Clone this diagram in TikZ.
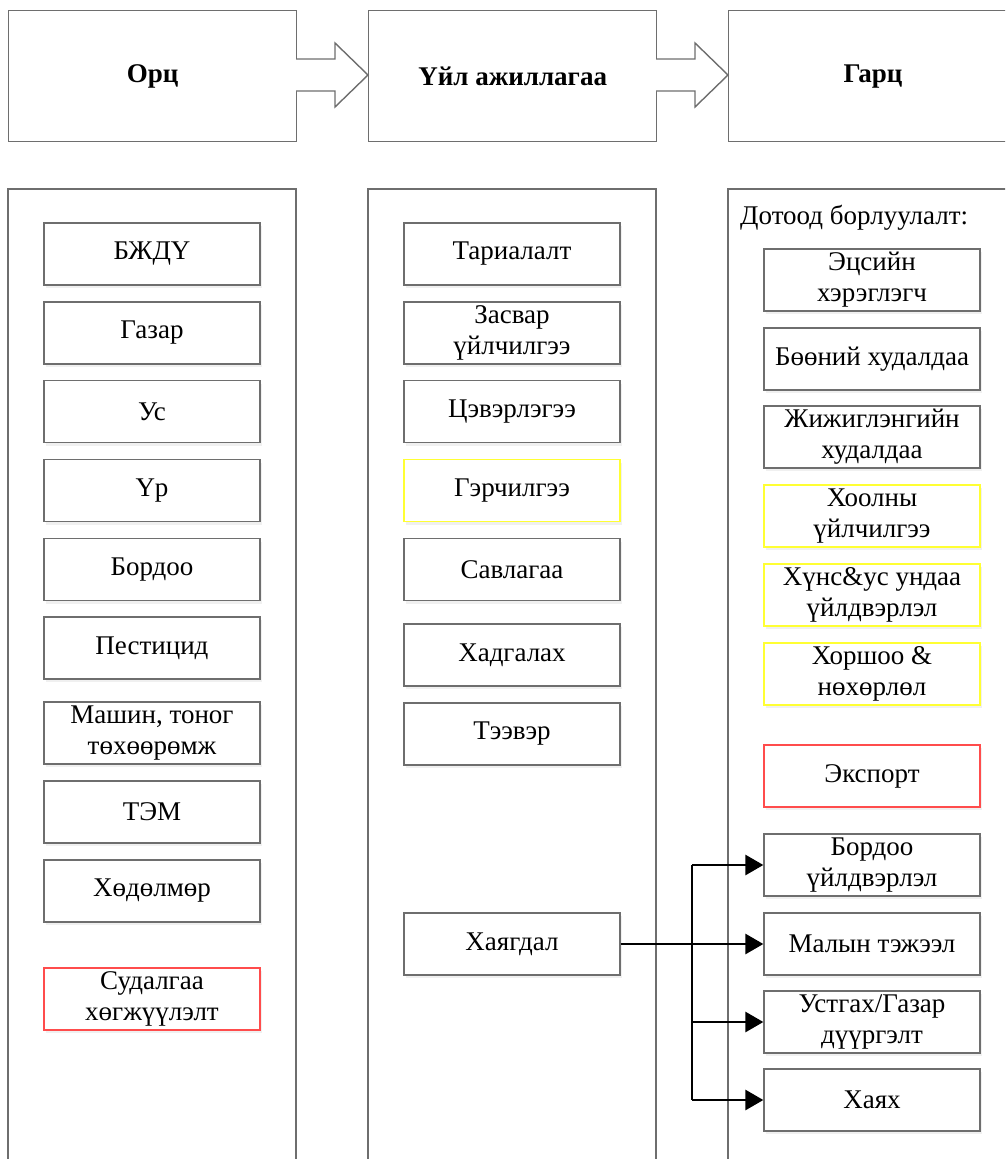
\documentclass[tikz,border=0pt]{standalone}
\usepackage{fontspec}
\setmainfont{Liberation Serif}
\usetikzlibrary{arrows.meta,shadows}
\definecolor{edge}{HTML}{6E6E6E}
\definecolor{ylw}{HTML}{FFFF33}
\definecolor{rd}{HTML}{FF4C4C}
\tikzset{
  px/.style={x=1pt,y=-1pt},
  colbox/.style={draw=edge,line width=1.4pt},
  item/.style={draw=edge,line width=1.3pt,fill=white,minimum width=216pt,minimum height=62pt,
    align=center,font=\fontsize{27}{31}\selectfont,inner sep=0pt,
    drop shadow={opacity=0.12,shadow xshift=2pt,shadow yshift=-3pt}},
  yitem/.style={item,draw=ylw},
  ritem/.style={item,draw=rd},
  head/.style={draw=edge,line width=1.4pt,fill=white,minimum width=288pt,minimum height=131pt,
    font=\fontsize{27}{31}\selectfont\bfseries,inner sep=0pt},
  blockarrow/.style={draw=edge,line width=1.4pt,fill=white,line join=miter},
  conn/.style={draw=black,line width=2.8pt,-{Triangle[length=18pt,width=20pt]}},
}
\begin{document}
\begin{tikzpicture}[px]
\useasboundingbox (0,0) rectangle (1005,1159);
\begin{scope}
\clip (0,0) rectangle (1005,1159);
% column frames (open at bottom)
\draw[colbox] (8,1170) -- (8,189) -- (296,189) -- (296,1170);
\draw[colbox] (368,1170) -- (368,189) -- (656,189) -- (656,1170);
\draw[colbox] (728,1170) -- (728,189) -- (1020,189);
% headers
\node[head,anchor=north west] (h1) at (8,10) {Орц};
\node[head,anchor=north west] (h2) at (368,10) {Үйл ажиллагаа};
\node[head,anchor=north west,minimum width=290pt] (h3) at (728,10) {\hspace*{0pt}};
\node[font=\fontsize{27}{31}\selectfont\bfseries] (h3t) at (873,77) {Гарц};
\end{scope}
% block arrows
\draw[blockarrow] (296,59) -- (335,59) -- (335,43) -- (368,75) -- (335,107) -- (335,91) -- (296,91);
\draw[blockarrow] (656,59) -- (695,59) -- (695,43) -- (728,75) -- (695,107) -- (695,91) -- (656,91);
% left column
\node[item] (a1) at (152,254) {БЖДҮ};
\node[item] (a2) at (152,333) {Газар};
\node[item] (a3) at (152,411.5) {Ус};
\node[item] (a4) at (152,490.5) {Үр};
\node[item] (a5) at (152,569.5) {Бордоо};
\node[item] (a6) at (152,648) {Пестицид};
\node[item] (a7) at (152,733) {Машин, тоног\\төхөөрөмж};
\node[item] (a8) at (152,812) {ТЭМ};
\node[item] (a9) at (152,891) {Хөдөлмөр};
\node[ritem] (a10) at (152,999) {Судалгаа\\хөгжүүлэлт};
% middle column
\node[item] (b1) at (512,254) {Тариалалт};
\node[item] (b2) at (512,333) {Засвар\\үйлчилгээ};
\node[item] (b3) at (512,411.5) {Цэвэрлэгээ};
\node[yitem] (b4) at (512,490.5) {Гэрчилгээ};
\node[item] (b5) at (512,569.5) {Савлагаа};
\node[item] (b6) at (512,655) {Хадгалах};
\node[item] (b7) at (512,734) {Тээвэр};
\node[item] (b8) at (512,944) {Хаягдал};
% right column
\node[anchor=west,font=\fontsize{27}{31}\selectfont,inner sep=0pt] (dt) at (740,218) {Дотоод борлуулалт:};
\node[item] (c1) at (872,280) {Эцсийн\\хэрэглэгч};
\node[item] (c2) at (872,359) {Бөөний худалдаа};
\node[item] (c3) at (872,437) {Жижиглэнгийн\\худалдаа};
\node[yitem] (c4) at (872,516) {Хоолны\\үйлчилгээ};
\node[yitem] (c5) at (872,595) {Хүнс\&ус ундаа\\үйлдвэрлэл};
\node[yitem] (c6) at (872,674) {Хоршоо \&\\нөхөрлөл};
\node[ritem] (c7) at (872,776) {Экспорт};
\node[item] (c8) at (872,865) {Бордоо\\үйлдвэрлэл};
\node[item] (c9) at (872,944) {Малын тэжээл};
\node[item] (c10) at (872,1022) {Устгах/Газар\\дүүргэлт};
\node[item] (c11) at (872,1100) {Хаях};
% connectors
\coordinate (j) at (692,944);
\draw[line width=2.8pt] (b8.east) -- (j);
\draw[line width=2.8pt] (692,865) -- (692,1100);
\draw[conn] (j) -- (c9.west);
\draw[conn] (c8.west -| j) -- (c8.west);
\draw[conn] (c10.west -| j) -- (c10.west);
\draw[conn] (c11.west -| j) -- (c11.west);
\end{tikzpicture}
\end{document}
